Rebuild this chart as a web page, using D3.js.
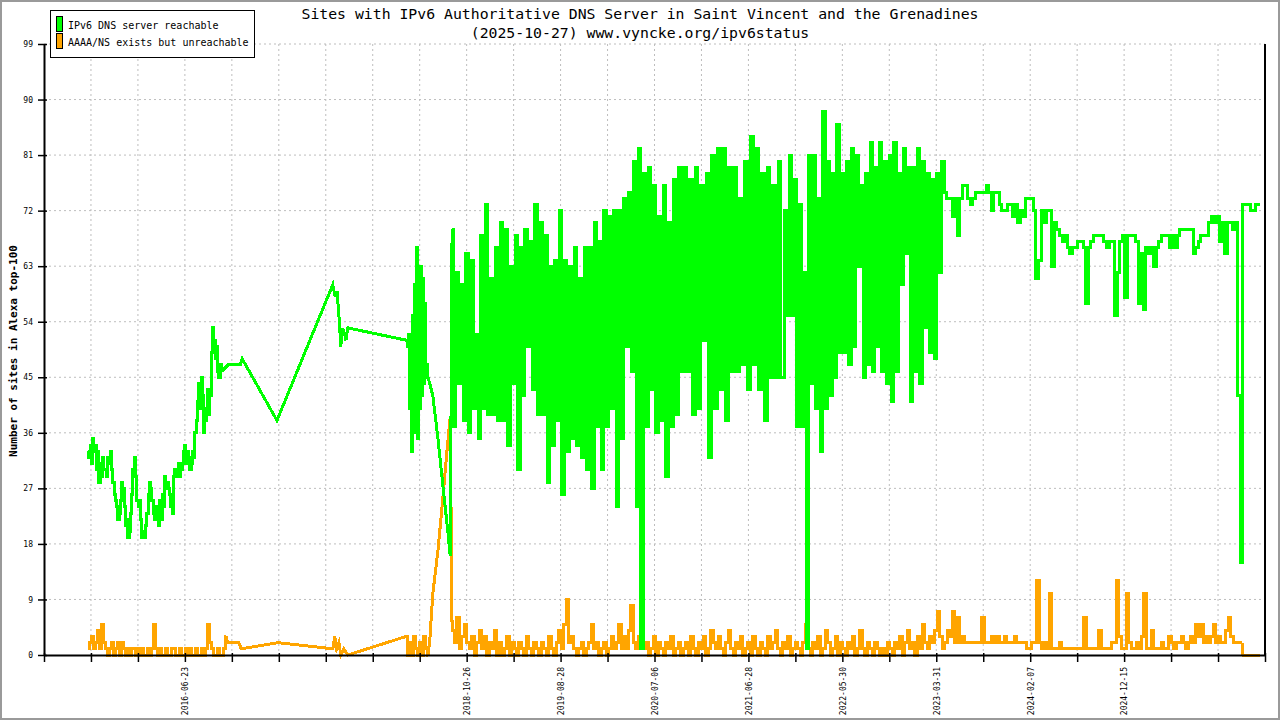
<!DOCTYPE html>
<html>
<head>
<meta charset="utf-8">
<script src="https://cdn.jsdelivr.net/npm/d3@7"></script>
<style>
  body { margin: 0; background: #fff; }
  svg { display: block; }
  text { font-family: "DejaVu Sans Mono", "Liberation Mono", monospace; }
</style>
</head>
<body>
<svg id="chart" width="1280" height="720"></svg>
<script>
// ---- data (x is the sample position on the chart, 100 samples per tick) ----
const titleLines = ["Sites with IPv6 Authoritative DNS Server in Saint Vincent and the Grenadines",
                    "(2025-10-27) www.vyncke.org/ipv6status"];
const seriesNames = ["IPv6 DNS server reachable", "AAAA/NS exists but unreachable"];
const seriesColors = ["#00ff00", "#ffa500"];
const yTicks = [0, 9, 18, 27, 36, 45, 54, 63, 72, 81, 90, 99];
const xTicks = d3.range(0, 2601, 100);
const xLabelAt = [300, 900, 1100, 1300, 1500, 1700, 1900, 2100, 2300];
const xLabelText = ["2016-06-23", "2018-10-26", "2019-08-28", "2020-07-06", "2021-06-28",
                    "2022-05-30", "2023-03-31", "2024-02-07", "2024-12-15"];

// green: reachable
const greenEarly = [33,32,34,31,35,33, 34,30,33, 28,31,29,32,30, 30,29,32,31,33,30, 28,26,25,
  24,22,23,25, 28,27, 24,21,22,19,20,23, 26,30,32,29, 25,24,25, 22,19,20,19,21,23, 26,28,27,25,
  23,22,24,23,21,25, 22,26,24,29, 27,28,27,26,24,23, 29,30,29, 30,31,29,30,31, 33,34,31,33,32,30,
  31,33,32,36,38, 41,44,40,45,42, 36,38,40, 43,39,42, 49,53,51,48,50, 46,45,47,46];
const greenSparse = [[392,47],[418,47],[422,48],[496,38],[615,60],[620,58],[624,59],[628,55],
  [632,50],[636,53],[640,52],[643,51],[647,53],[772,51]];
const greenBurst = [51,50,52,40,48,33,55,36,60,38,66,35,57,40,63,42,61,44,57,45,47,45];
const greenDrop = [[828,42],[839,35],[850,27],[860,20],[865,16]];
const greenDenseA = [69,37, 62,44, 60,38, 65,36, 64,40, 52,35, 68,40, 73,39, 61,39, 66,38,
  70,38, 69,34, 63,44, 68,30, 66,42, 69,50, 67,43, 73,39, 70,39, 68,28,
  63,34, 64,38, 72,26, 64,33, 63,35, 66,34, 61,32, 66,30, 66,27, 70,37,
  67,30, 72,37, 71,40, 72,24, 72,35, 74,50, 75,46, 80,24, 82,1, 78,37,
  79,43, 76,36, 71,38, 76,29, 70,37, 77,39, 79,46];
const greenDenseB = [79,46, 77,39, 79,40, 76,51, 78,32, 81,40, 82,43, 82,38, 79,46, 79,46,
  74,47, 80,43, 84,47, 82,43, 78,38, 79,45, 76,45, 80,45];
const greenDenseC = [72,55, 81,55, 77,37, 73,37, 62,1, 81,44, 81,40, 74,33, 88,40, 80,42,
  78,45, 86,49, 78,49, 80,47, 82,50, 81,63, 76,45, 78,47, 83,46, 79,50,
  83,46, 80,44, 81,41, 83,46, 78,60, 82,65, 79,41, 79,46, 82,44, 80,53,
  78,49, 77,48, 78,62];
const greenLate = [80,75,74,74,71,74,68,74,76,76, 74,73,74,75,75,75,75,76,75,
  72,75,75,73,72,72,73,73, 71,73,70,72,71,74,74,74,72,61,
  64,72,70,72,72,63,70,69,68,67, 68,66,65,66,66,67,67,66,57,66,
  67,68,68,68,68,67,66,67,67,55, 62,67,68,58,68,68,68,67,57,65,
  56,66,65,66,63,66,67,68,68,68, 66,68,66,68,69,69,69,69,69,65,
  66,67,68,68,68,70,71,70,71,67, 70,65,70,70,69,70,42,15,73,73, 73,72,72,73,73];

// orange: AAAA/NS exists but unreachable
const orangeEarly = [1,2,3,1, 2,4,1,5,2,1, 0,1,2,0,1,2,0,2,1,0,1,0,1,1,0,
  1,0,1,0,0,1,0,1,5,1, 0,1,0,0,1,0,0,1,1,0,0,1,0,0,1,0,1,0,0,1,0,0,1,0,1,
  5,2,1,0,0,1,0,0,1,3];
const orangeSparse = [[391,2],[415,2],[420,1],[498,2],[615,1],[619,3],[623,1],[628,2],
  [632,0],[638,1],[647,0],[771,3]];
const orangeBurst = [3,0,2,0,3,1,0,2,0,3,1,0];
const orangeRise = [[822,3],[828,10],[839,17],[850,26],[858,33],[865,38.6],[869,4]];
const orangeDense = [4,2,6,1,3,5,2, 1,3,0,2,4,1,3,0,2,1,4,0,
  2,0,1,3,0,2,1,0,2,1,0,3,1,0,2,1, 0,2,1,0,3,1,0,2,4,1,5,9,2,3,1,0,
  1,2,0,1,2,5,1,2,0,1,2,0,1,3,1,2, 5,1,3,1,4,8,2,1,3,5,
  1,2,0,1,3,0,2,1,0,2,1,3,0,1,2,0,1,2,0,3,1,0,2,1,3,0,1,4,2,1,
  3,1,0,2,4,1,0,2,1,3,0,1,2,0,3,1,0,2,1,0,3,1,2,4,1,0,2,1,3,0,1,2,
  1,0,2,5,1,0,2,1,3,0,1,4,2,0,1,3,0,2,1,0,2,1,3,0,1,4,1,0,2,1,0,2,1,0,
  1,0,2,1,0,2,1,3,0,2,4,1,2,0,3,1,5,2,1,3,2,4,7,3,1,
  2,4,3,7,2,6,2,3,2,2,2,2,2,2,2,6,2, 2,2,3,2,3,2,2,3,2,2,2,3,2,2,2,2,
  1,1,2,2,12,2,1,2,1, 10,1,1,1,2,1,1,1,1,1,1,1,1,1,6,1,1,1,1,1,4,1,1,1,1,2,
  2,12,3,1,1,10,2,1,1,2,1,3,10, 1,1,4,1,1,1,2,1,1,3, 2,1,2,2,3,2,1,2,3,2,
  5,3,5,2,3,2,3,5,2,3, 2,2,4,6,3,2,2,2,2];
const orangeTail = [[2553,0],[2589,0]];

// spread a run of daily values evenly between two sample positions
function run(from, to, vals) {
  return vals.map((v, i) => [from + (to - from) * i / (vals.length - 1), v]);
}

// daily runs are drawn as steps, the gaps between them as straight lines
const greenParts = [
  {pts: run(94, 379, greenEarly), step: true},
  {pts: greenSparse, step: false},
  {pts: run(773, 818, greenBurst), step: true},
  {pts: greenDrop, step: false},
  {pts: [].concat(run(869, 1358, greenDenseA), run(1366, 1572, greenDenseB),
                  run(1580, 1908, greenDenseC), run(1914, 2589, greenLate)), step: true}
];
const orangeParts = [
  {pts: run(94, 388, orangeEarly), step: true},
  {pts: orangeSparse, step: false},
  {pts: run(773, 818, orangeBurst), step: true},
  {pts: orangeRise, step: false},
  {pts: run(871, 2551, orangeDense), step: true},
  {pts: orangeTail, step: false}
];

// ---- chart ----
const svg = d3.select("#chart");
const plotLeft = 44, plotRight = 1265, plotTop = 44, plotBottom = 655;

const x = d3.scaleLinear().domain([0, 2600]).range([plotLeft, plotRight]);
const y = d3.scaleLinear().domain([0, 99]).range([plotBottom, plotTop]);

svg.append("rect")
  .attr("x", 1).attr("y", 1).attr("width", 1278).attr("height", 718)
  .attr("fill", "#fff").attr("stroke", "#9a9a9a").attr("stroke-width", 2);

// grid
const grid = svg.append("g").attr("stroke", "#bdbdbd").attr("stroke-dasharray", "2,3");
grid.selectAll("line.gy").data(yTicks.filter(d => d > 0)).join("line")
  .attr("class", "gy")
  .attr("x1", plotLeft).attr("x2", plotRight)
  .attr("y1", d => y(d)).attr("y2", d => y(d));
grid.selectAll("line.gx").data(xTicks.filter(d => d > 0 && d < 2600)).join("line")
  .attr("class", "gx")
  .attr("x1", d => x(d)).attr("x2", d => x(d))
  .attr("y1", plotTop).attr("y2", plotBottom);

// series
const straight = d3.line().x(d => x(d[0])).y(d => y(d[1]));
const stepped = d3.line().curve(d3.curveStep).x(d => x(d[0])).y(d => y(d[1]));

function drawSeries(parts, color) {
  const g = svg.append("g");
  parts.forEach((p, i) => {
    let pts = p.pts;
    if (!p.step) {
      if (i > 0) pts = [parts[i - 1].pts[parts[i - 1].pts.length - 1], ...pts];
      if (i < parts.length - 1) pts = [...pts, parts[i + 1].pts[0]];
    }
    g.append("path").datum(pts)
      .attr("d", p.step ? stepped : straight)
      .attr("fill", "none").attr("stroke", color).attr("stroke-width", 3)
      .attr("stroke-linejoin", "miter").attr("shape-rendering", "crispEdges");
  });
}
drawSeries(orangeParts, seriesColors[1]);
drawSeries(greenParts, seriesColors[0]);

// axes
const yAxis = svg.append("g").attr("transform", `translate(${plotLeft},0)`)
  .call(d3.axisLeft(y).tickValues(yTicks).tickSize(6).tickPadding(5).tickSizeOuter(0));
yAxis.select(".domain").attr("stroke-width", 2);
yAxis.selectAll(".tick line").attr("x1", 3).attr("stroke-width", 1.5);
yAxis.selectAll(".tick text").attr("font-size", 8).attr("font-family", "DejaVu Sans Mono");

const xAxis = svg.append("g").attr("transform", `translate(0,${plotBottom})`)
  .call(d3.axisBottom(x).tickValues(xTicks).tickSize(7).tickSizeOuter(0)
    .tickFormat(d => { const i = xLabelAt.indexOf(d); return i < 0 ? "" : xLabelText[i]; }));
xAxis.select(".domain").attr("stroke-width", 2);
xAxis.selectAll(".tick line").attr("y1", -2).attr("stroke-width", 1.5);
xAxis.selectAll(".tick text")
  .attr("font-size", 8).attr("font-family", "DejaVu Sans Mono")
  .attr("transform", "rotate(-90)")
  .attr("text-anchor", "end")
  .attr("x", -12).attr("y", 0).attr("dy", "0.35em");

svg.append("line")
  .attr("x1", plotRight).attr("x2", plotRight).attr("y1", plotTop).attr("y2", plotBottom)
  .attr("stroke", "#000").attr("stroke-width", 2);

// titles
svg.selectAll("text.title").data(titleLines).join("text")
  .attr("class", "title")
  .attr("x", 640).attr("y", (d, i) => 19 + i * 19)
  .attr("text-anchor", "middle").attr("font-size", 14.8)
  .text(d => d);

svg.append("text")
  .attr("transform", "translate(17,351) rotate(-90)")
  .attr("text-anchor", "middle").attr("font-size", 11).attr("font-weight", "bold")
  .text("Number of sites in Alexa top-100");

// legend
const legend = svg.append("g");
legend.append("rect")
  .attr("x", 50.5).attr("y", 10.5).attr("width", 204).attr("height", 47)
  .attr("fill", "#fff").attr("stroke", "#000");
seriesNames.forEach((name, i) => {
  legend.append("rect")
    .attr("x", 56.5).attr("y", 16.5 + i * 17).attr("width", 6).attr("height", 15)
    .attr("fill", seriesColors[i]).attr("stroke", "#000");
  legend.append("text")
    .attr("x", 68).attr("y", 29 + i * 17).attr("font-size", 10)
    .text(name);
});
</script>
</body>
</html>
